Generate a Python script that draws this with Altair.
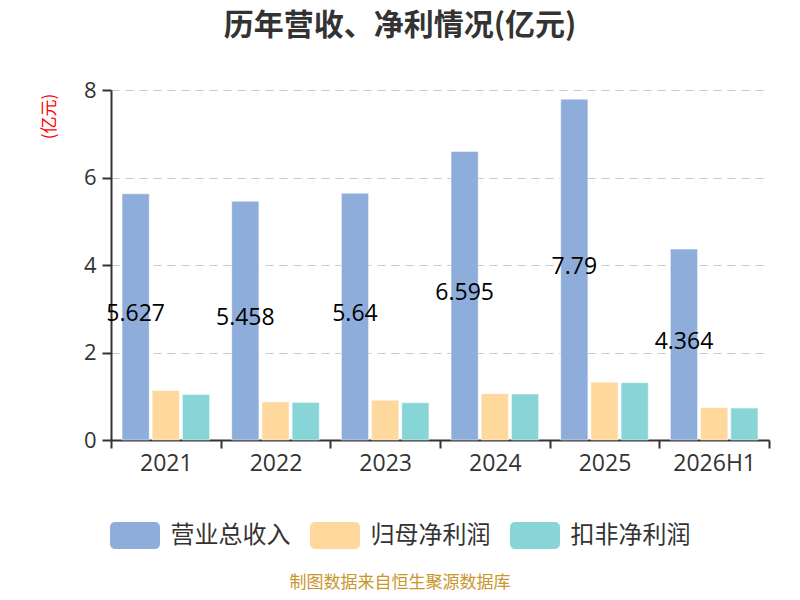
import altair as alt
import pandas as pd

years = ["2021", "2022", "2023", "2024", "2025", "2026H1"]
series = ["营业总收入", "归母净利润", "扣非净利润"]
revenue = [5.627, 5.458, 5.64, 6.595, 7.79, 4.364]
revenue_labels = ["5.627", "5.458", "5.64", "6.595", "7.79", "4.364"]
parent_np = [1.13, 0.87, 0.91, 1.06, 1.32, 0.74]
deducted_np = [1.04, 0.86, 0.85, 1.05, 1.31, 0.73]
colors = ["#8EADDA", "#FED89C", "#88D5D8"]
y_ticks = [0, 2, 4, 6, 8]
title_text = "历年营收、净利情况(亿元)"
y_title = "(亿元)"
footer_text = "制图数据来自恒生聚源数据库"

rows = []
for i, yr in enumerate(years):
    rows.append(dict(year=yr, series=series[0], value=revenue[i], label=revenue_labels[i]))
    rows.append(dict(year=yr, series=series[1], value=parent_np[i], label=""))
    rows.append(dict(year=yr, series=series[2], value=deducted_np[i], label=""))
df = pd.DataFrame(rows)

NUM_FONT = "Open Sans, Noto Sans CJK SC"
CJK_FONT = "Noto Sans CJK SC"

x_enc = alt.X(
    "year:N", sort=years,
    scale=alt.Scale(paddingInner=0, paddingOuter=0),
    axis=alt.Axis(title=None, labelAngle=0, labelFontSize=23, labelFont=NUM_FONT,
                  labelColor="#333", labelPadding=4, tickBand="extent", tickSize=8,
                  tickColor="#333", tickWidth=2, domainColor="#333", domainWidth=2,
                  grid=False),
)
xoff_enc = alt.XOffset("series:N", sort=series,
                       scale=alt.Scale(domain=series, paddingInner=0.1, paddingOuter=0.366))

y_axis = alt.Axis(values=y_ticks, title=y_title, titleColor="#FF0000", titleFontSize=17,
                  titleFont=CJK_FONT, titleFontWeight="normal", titleAngle=270,
                  titleX=-62, titleY=26, titleAlign="center", titleBaseline="middle",
                  labelFontSize=22, labelFont=NUM_FONT, labelColor="#333", labelPadding=6,
                  tickSize=9, tickColor="#333", tickWidth=2, domainColor="#333",
                  domainWidth=2, grid=True, gridColor="#c8c8c8", gridDash=[8, 6],
                  gridWidth=1.2)
y_scale = alt.Scale(domain=[0, 8])

symbol_path = ("M-1.48,-1H1.48A0.37,0.37 0 0 1 1.85,-0.63V0.63A0.37,0.37 0 0 1 1.48,1"
               "H-1.48A0.37,0.37 0 0 1 -1.85,0.63V-0.63A0.37,0.37 0 0 1 -1.48,-1Z")

bars = alt.Chart(df).mark_bar(stroke="#ffffff", strokeWidth=0.8, strokeOpacity=0.6).encode(
    x=x_enc,
    xOffset=xoff_enc,
    y=alt.Y("value:Q", scale=y_scale, axis=y_axis),
    color=alt.Color(
        "series:N", sort=series,
        scale=alt.Scale(domain=series, range=colors),
        legend=alt.Legend(title=None, orient="none", legendX=10.5, legendY=432,
                          direction="horizontal", symbolType=symbol_path, symbolSize=729,
                          symbolStrokeWidth=0, symbolOpacity=1, labelFontSize=24,
                          labelFont=CJK_FONT, labelColor="#333", labelOffset=22,
                          columnPadding=19, labelLimit=400, padding=0),
    ),
)

labels = alt.Chart(df).transform_filter(
    alt.datum.series == series[0]
).transform_calculate(mid="datum.value / 2").mark_text(
    fontSize=23, font=NUM_FONT, color="#000000", dy=-3, baseline="middle", align="center"
).encode(
    x=x_enc,
    xOffset=xoff_enc,
    y=alt.Y("mid:Q", scale=y_scale, axis=y_axis),
    text="label:N",
)

footer = alt.Chart(pd.DataFrame({"t": [footer_text]})).mark_text(
    fontSize=17, font=CJK_FONT, color="#C9962E", align="center", baseline="middle"
).encode(x=alt.value(289), y=alt.value(493), text="t:N")

chart = alt.layer(bars, labels, footer).properties(
    width=658, height=350,
    title=alt.TitleParams(text=title_text, fontSize=30, fontWeight="bold", font=CJK_FONT,
                          color="#333333", anchor="middle", frame="group", dx=-40,
                          offset=8, baseline="bottom"),
    padding={"left": 103, "top": 82, "right": 23, "bottom": 152},
    autosize=alt.AutoSizeParams(type="none"),
).configure_view(stroke=None)

chart.save("out.html", embed_options={"renderer": "svg", "actions": False})
